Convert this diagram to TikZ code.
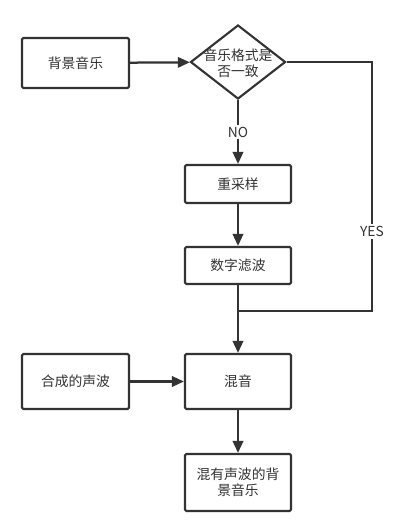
\documentclass[tikz,border=0pt]{standalone}
\usepackage{fontspec}
\setmainfont{Noto Sans CJK SC}
\usepackage{xcolor}
\usepackage{tikz}
\usetikzlibrary{arrows.meta,positioning,shapes.geometric}
\definecolor{inkgray}{HTML}{333333}

\begin{document}
\begin{tikzpicture}[
  x=0.025cm, y=-0.025cm,
  font=\fontsize{9.8}{11.5}\selectfont, text=inkgray,
  box/.style={draw=inkgray, line width=1.5pt, rounded corners=1pt, align=center, minimum width=2.65cm, inner sep=1pt, fill=white},
  decision/.style={draw=inkgray, line width=1.5pt, diamond, minimum width=2.375cm, minimum height=1.85cm, inner sep=0pt, fill=white},
  flow/.style={-{Triangle[length=3mm, width=2.6mm]}, line width=1.6pt, draw=inkgray},
  branch/.style={fill=white, inner sep=1.5pt}
]
\useasboundingbox (0,0) rectangle (419,529);

\node[box, minimum width=2.675cm, minimum height=1.25cm] (music) at (75.5,63) {背景音乐};
\node[decision, label={[align=center, text=inkgray, yshift=-1pt]center:音乐格式是\\否一致}] (check) at (238,62) {};
\node[box, minimum height=0.95cm] (resample) at (238,184) {重采样};
\node[box, minimum height=0.925cm] (filter) at (238,265.5) {数字滤波};
\node[box, minimum height=1.375cm] (mix) at (238,381.5) {混音};
\node[box, minimum width=2.675cm, minimum height=1.375cm] (synth) at (75.5,381.5) {合成的声波};
\node[box, text width=2.3cm, minimum height=1.425cm] (output) at (238,482.5) {混有声波的背\\景音乐};

\coordinate (merge) at (238,311);
\coordinate (bypass) at (372,311);

\draw[flow] (music) -- (check);
\draw[flow] (check) -- node[branch]{NO} (resample);
\draw[flow] (resample) -- (filter);
\draw[flow] (filter) -- (mix);
\draw[line width=1.6pt, draw=inkgray] (check.east) -| node[branch, pos=0.84]{YES} (bypass) -- (merge);
\draw[flow] (synth) -- (mix);
\draw[flow] (mix) -- (output);
\end{tikzpicture}
\end{document}
